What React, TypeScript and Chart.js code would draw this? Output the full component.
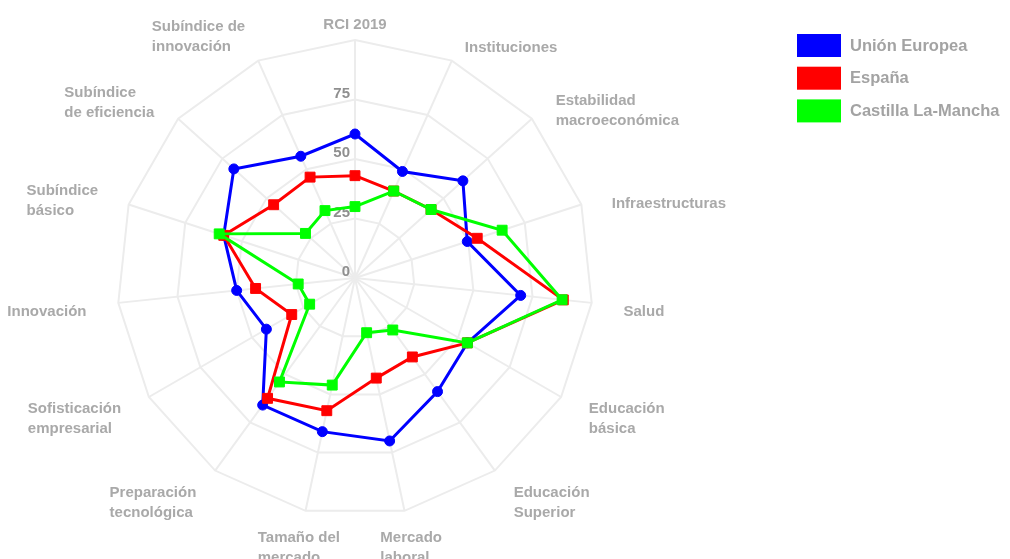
import React, { useEffect, useRef } from 'react';
import { Chart, registerables } from 'chart.js';

Chart.register(...registerables);

// ---- data ----
const categories: string[][] = [
  ['RCI 2019'],
  ['Instituciones'],
  ['Estabilidad', 'macroeconómica'],
  ['Infraestructuras'],
  ['Salud'],
  ['Educación', 'básica'],
  ['Educación', 'Superior'],
  ['Mercado', 'laboral'],
  ['Tamaño del', 'mercado'],
  ['Preparación', 'tecnológica'],
  ['Sofisticación', 'empresarial'],
  ['Innovación'],
  ['Subíndice', 'básico'],
  ['Subíndice', 'de eficiencia'],
  ['Subíndice de', 'innovación'],
];

const unionEuropea = [60.5, 49, 61, 49.6, 70, 54.5, 59, 70, 66, 66, 43, 50, 58, 68.5, 56];
const espana = [43, 40, 43, 54, 88, 54.5, 41, 43, 57, 62.5, 30.7, 42, 58, 46, 46.4];
const castillaLaMancha = [30, 40, 43, 65, 87.5, 54.5, 27, 23.5, 46, 54, 22, 24, 60, 28, 31];

const seriesNames = ['Unión Europea', 'España', 'Castilla La-Mancha'];
const seriesColors = ['#0000ff', '#ff0000', '#00ff00'];
const tickLabels = [0, 25, 50, 75];
const scaleMin = 0;
const scaleMax = 100;
const scaleStep = 25;

const FONT = '"Liberation Sans", Arial, Helvetica, sans-serif';

const tickLabelPlugin = {
  id: 'tickLabelsLeft',
  beforeDatasetsDraw(chart: any) {
    const scale = chart.scales.r;
    const ctx = chart.ctx;
    ctx.save();
    ctx.font = `bold 15px ${FONT}`;
    ctx.fillStyle = '#8f8f8f';
    ctx.textAlign = 'right';
    ctx.textBaseline = 'middle';
    tickLabels.forEach((v) => {
      const d = scale.getDistanceFromCenterForValue(v);
      ctx.fillText(String(v), scale.xCenter - 5, scale.yCenter - d - 6);
    });
    ctx.restore();
  },
};

const pointLabelPlugin = {
  id: 'pointLabelsBlock',
  afterDraw(chart: any) {
    const scale = chart.scales.r;
    const ctx = chart.ctx;
    const labels = chart.data.labels as (string | string[])[];
    const lineH = 20;
    ctx.save();
    ctx.font = `bold 15px ${FONT}`;
    ctx.fillStyle = '#a9a9a9';
    ctx.textAlign = 'left';
    ctx.textBaseline = 'middle';
    labels.forEach((lab, i) => {
      const lines = Array.isArray(lab) ? lab : [lab];
      const angle = scale.getIndexAngle(i);
      const pos = scale.getPointPosition(i, scale.drawingArea + 32);
      const w = Math.max(...lines.map((l) => ctx.measureText(l).width));
      const s = Math.sin(angle);
      const c = Math.cos(angle);
      let left: number;
      if (Math.abs(s) < 0.25) left = pos.x - w / 2;
      else if (s > 0) left = pos.x;
      else left = pos.x - w;
      const extra = s >= -0.01 && c > 0 ? 11 * c : 0;
      const top = pos.y + 6 + extra - (lines.length * lineH) / 2;
      lines.forEach((ln, j) => ctx.fillText(ln, left, top + lineH * (j + 0.5)));
    });
    ctx.restore();
  },
};

const legendPlugin = {
  id: 'legendBoxes',
  afterDraw(chart: any) {
    const ctx = chart.ctx;
    ctx.save();
    chart.data.datasets.forEach((ds: any, i: number) => {
      const y = 34 + i * 32.7;
      ctx.fillStyle = ds.borderColor;
      ctx.fillRect(797, y, 44, 23);
      ctx.fillStyle = '#a3a3a3';
      ctx.font = `bold 16.5px ${FONT}`;
      ctx.textAlign = 'left';
      ctx.textBaseline = 'middle';
      ctx.fillText(ds.label, 850, y + 12);
    });
    ctx.restore();
  },
};

export default function App() {
  const canvasRef = useRef<HTMLCanvasElement | null>(null);

  useEffect(() => {
    if (!canvasRef.current) return;
    const seriesValues = [unionEuropea, espana, castillaLaMancha];
    const chart = new Chart(canvasRef.current, {
      type: 'radar',
      data: {
        labels: categories,
        datasets: seriesValues.map((vals, i) => ({
          label: seriesNames[i],
          data: vals,
          borderColor: seriesColors[i],
          backgroundColor: seriesColors[i],
          pointBackgroundColor: seriesColors[i],
          pointBorderColor: seriesColors[i],
          borderWidth: 3,
          fill: false,
          pointStyle: i === 0 ? 'circle' : 'rect',
          pointRadius: i === 0 ? 5 : 7,
          pointBorderWidth: 1,
          order: 3 - i,
        })),
      },
      options: {
        animation: false,
        responsive: false,
        devicePixelRatio: 1,
        layout: { padding: { left: 0, right: 300, top: 40, bottom: 43 } },
        plugins: {
          legend: { display: false },
          tooltip: { enabled: false },
        },
        scales: {
          r: {
            min: scaleMin,
            max: scaleMax,
            ticks: { display: false, stepSize: scaleStep },
            grid: { color: '#ececec', lineWidth: 2 },
            angleLines: { color: '#ececec', lineWidth: 2 },
            pointLabels: { display: false },
          },
        },
      },
      plugins: [tickLabelPlugin, pointLabelPlugin, legendPlugin],
    } as any);
    return () => chart.destroy();
  }, []);

  return (
    <div style={{ position: 'fixed', left: 0, top: 0, width: 1010, height: 559, background: '#fff', overflow: 'hidden' }}>
      <canvas ref={canvasRef} width={1010} height={559} style={{ display: 'block' }} />
    </div>
  );
}
